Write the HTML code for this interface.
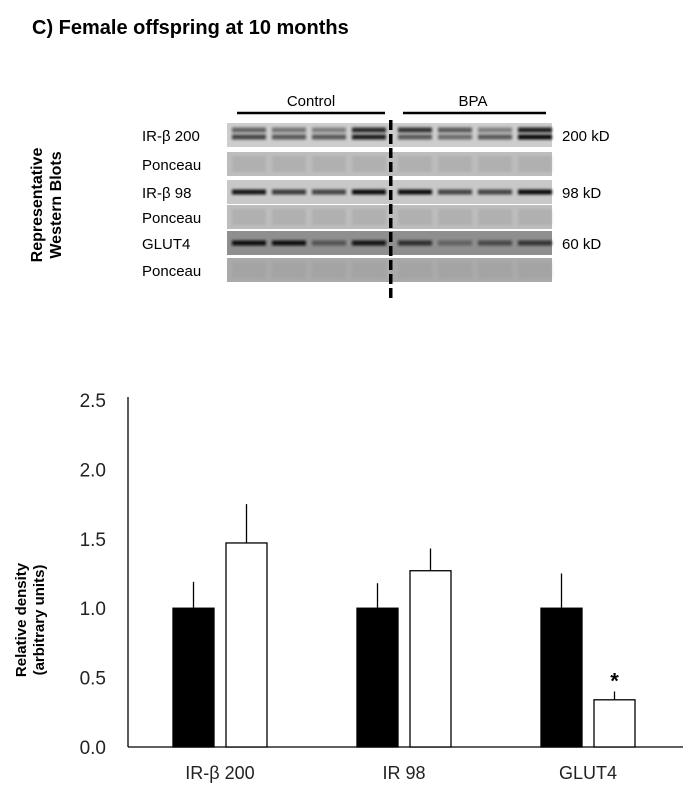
<!DOCTYPE html>
<html><head><meta charset="utf-8"><style>
body{margin:0;background:#fff;width:692px;height:797px;overflow:hidden;font-family:"Liberation Sans",Arial,sans-serif}
</style></head><body>
<svg id="fig" width="692" height="797" xmlns="http://www.w3.org/2000/svg">
<defs><filter id="bl" x="-10%" y="-100%" width="120%" height="300%"><feGaussianBlur stdDeviation="1.2"/></filter></defs>
<text x="32" y="34" font-size="20" font-weight="bold" fill="#000">C) Female offspring at 10 months</text>
<g id="blots"></g>
<text transform="translate(42,205) rotate(-90)" text-anchor="middle" font-size="16" font-weight="bold">Representative</text>
<text transform="translate(61,205) rotate(-90)" text-anchor="middle" font-size="16" font-weight="bold">Western Blots</text>
<text transform="translate(26,620) rotate(-90)" text-anchor="middle" font-size="15" font-weight="bold">Relative density</text>
<text transform="translate(44,620) rotate(-90)" text-anchor="middle" font-size="15" font-weight="bold">(arbitrary units)</text>
<g id="chart"></g>
</svg>
<script>
const categories=["IR-β 200","IR 98","GLUT4"];
const controlValues=[1.0,1.0,1.0];
const controlErrors=[0.19,0.18,0.25];
const bpaValues=[1.47,1.27,0.34];
const bpaErrors=[0.28,0.16,0.06];
const yTicks=[0,0.5,1.0,1.5,2.0,2.5];
const yTickLabels=["0.0","0.5","1.0","1.5","2.0","2.5"];
const NS="http://www.w3.org/2000/svg";
function mk(p,t,a){const e=document.createElementNS(NS,t);for(const k in a)e.setAttribute(k,a[k]);p.appendChild(e);return e;}
const chart=document.getElementById('chart');
const x0=128,y0=747,yTop=400,xEnd=683;
const yS=v=>y0-(v/2.5)*(y0-yTop);
const gW=184,gStart=150;
const ax=mk(chart,'line',{x1:x0,y1:yTop-3,x2:x0,y2:y0,stroke:'#000','stroke-width':1.3});

const bx=mk(chart,'line',{x1:x0,y1:y0,x2:xEnd,y2:y0,stroke:'#000','stroke-width':1.3});

yTicks.forEach((t,i)=>{const e=mk(chart,'text',{x:106,y:yS(t)+7,'text-anchor':'end','font-size':19,fill:'#222'});e.textContent=yTickLabels[i];
});
categories.forEach((c,i)=>{
 const gx=gStart+i*gW;
 const bw=41;
 const cx1=gx+23, cx2=gx+76;
 [[cx1,controlValues[i],controlErrors[i],'#000','control'],[cx2,bpaValues[i],bpaErrors[i],'#fff','bpa']].forEach(([x,v,er,f,n])=>{
  const r=mk(chart,'rect',{x:x,y:yS(v),width:bw,height:y0-yS(v),fill:f,stroke:'#000','stroke-width':1.3});
  
  const l=mk(chart,'line',{x1:x+bw/2,x2:x+bw/2,y1:yS(v),y2:yS(v+er),stroke:'#000','stroke-width':1.3});
  
 });
 const t=mk(chart,'text',{x:gx+70,y:779,'text-anchor':'middle','font-size':18,fill:'#222'});t.textContent=c;
 
 if(i===2){const s=mk(chart,'text',{x:cx2+bw/2,y:yS(bpaValues[i]+bpaErrors[i])-3,'text-anchor':'middle','font-size':22,'font-weight':'bold'});s.textContent='*';
 }
});
// blots
const bl=document.getElementById('blots');
const rows=[["IR-β 200","200 kD",[[0.55,0.7],[0.45,0.6],[0.4,0.6],[0.85,0.9]],[[0.8,0.6],[0.6,0.5],[0.4,0.6],[0.9,1.0]],"#cdcdcd"],
["Ponceau","",null,null,"#bdbdbd"],
["IR-β 98","98 kD",[[0.95],[0.75],[0.7],[1.0]],[[1.0],[0.7],[0.7],[1.0]],"#c8c8c8"],
["Ponceau","",null,null,"#bdbdbd"],
["GLUT4","60 kD",[[1.0],[1.0],[0.45],[0.95]],[[0.75],[0.35],[0.55],[0.7]],"#8f8f8f"],
["Ponceau","",null,null,"#aaaaaa"]];
const tops=[123,152,180,205,231,258];
mk(bl,'line',{x1:237,x2:385,y1:113,y2:113,stroke:'#000','stroke-width':2.5});
mk(bl,'line',{x1:403,x2:546,y1:113,y2:113,stroke:'#000','stroke-width':2.5});
let t1=mk(bl,'text',{x:311,y:106,'text-anchor':'middle','font-size':15});t1.textContent='Control';
let t2=mk(bl,'text',{x:473,y:106,'text-anchor':'middle','font-size':15});t2.textContent='BPA';
rows.forEach((r,i)=>{
 const y=tops[i],h=24;
 const lb=mk(bl,'text',{x:142,y:y+18,'font-size':15});lb.textContent=r[0];
 
 if(r[1]){const k=mk(bl,'text',{x:562,y:y+18,'font-size':15});k.textContent=r[1];}
 mk(bl,'rect',{x:227,y:y,width:325,height:h,fill:r[4]});
 for(let g=0;g<2;g++){const bands=g?r[3]:r[2];
  for(let l=0;l<4;l++){const lx=(g?395:229)+l*40;
   if(!bands){mk(bl,'rect',{x:lx+3,y:y+4,width:34,height:16,fill:'#999',opacity:0.35,filter:'url(#bl)'});continue;}
   bands[l].forEach((a,j)=>{const by=bands[l].length>1?y+7+j*7:y+12;
    mk(bl,'rect',{x:lx+3,y:by-2.5,width:34,height:5,fill:'#111',opacity:a,filter:'url(#bl)'});});
  }}
});
for(let y=120;y<300;y+=14){mk(bl,'rect',{x:389,y:y,width:3.5,height:10,fill:'#000'});}
</script>
</body></html>
